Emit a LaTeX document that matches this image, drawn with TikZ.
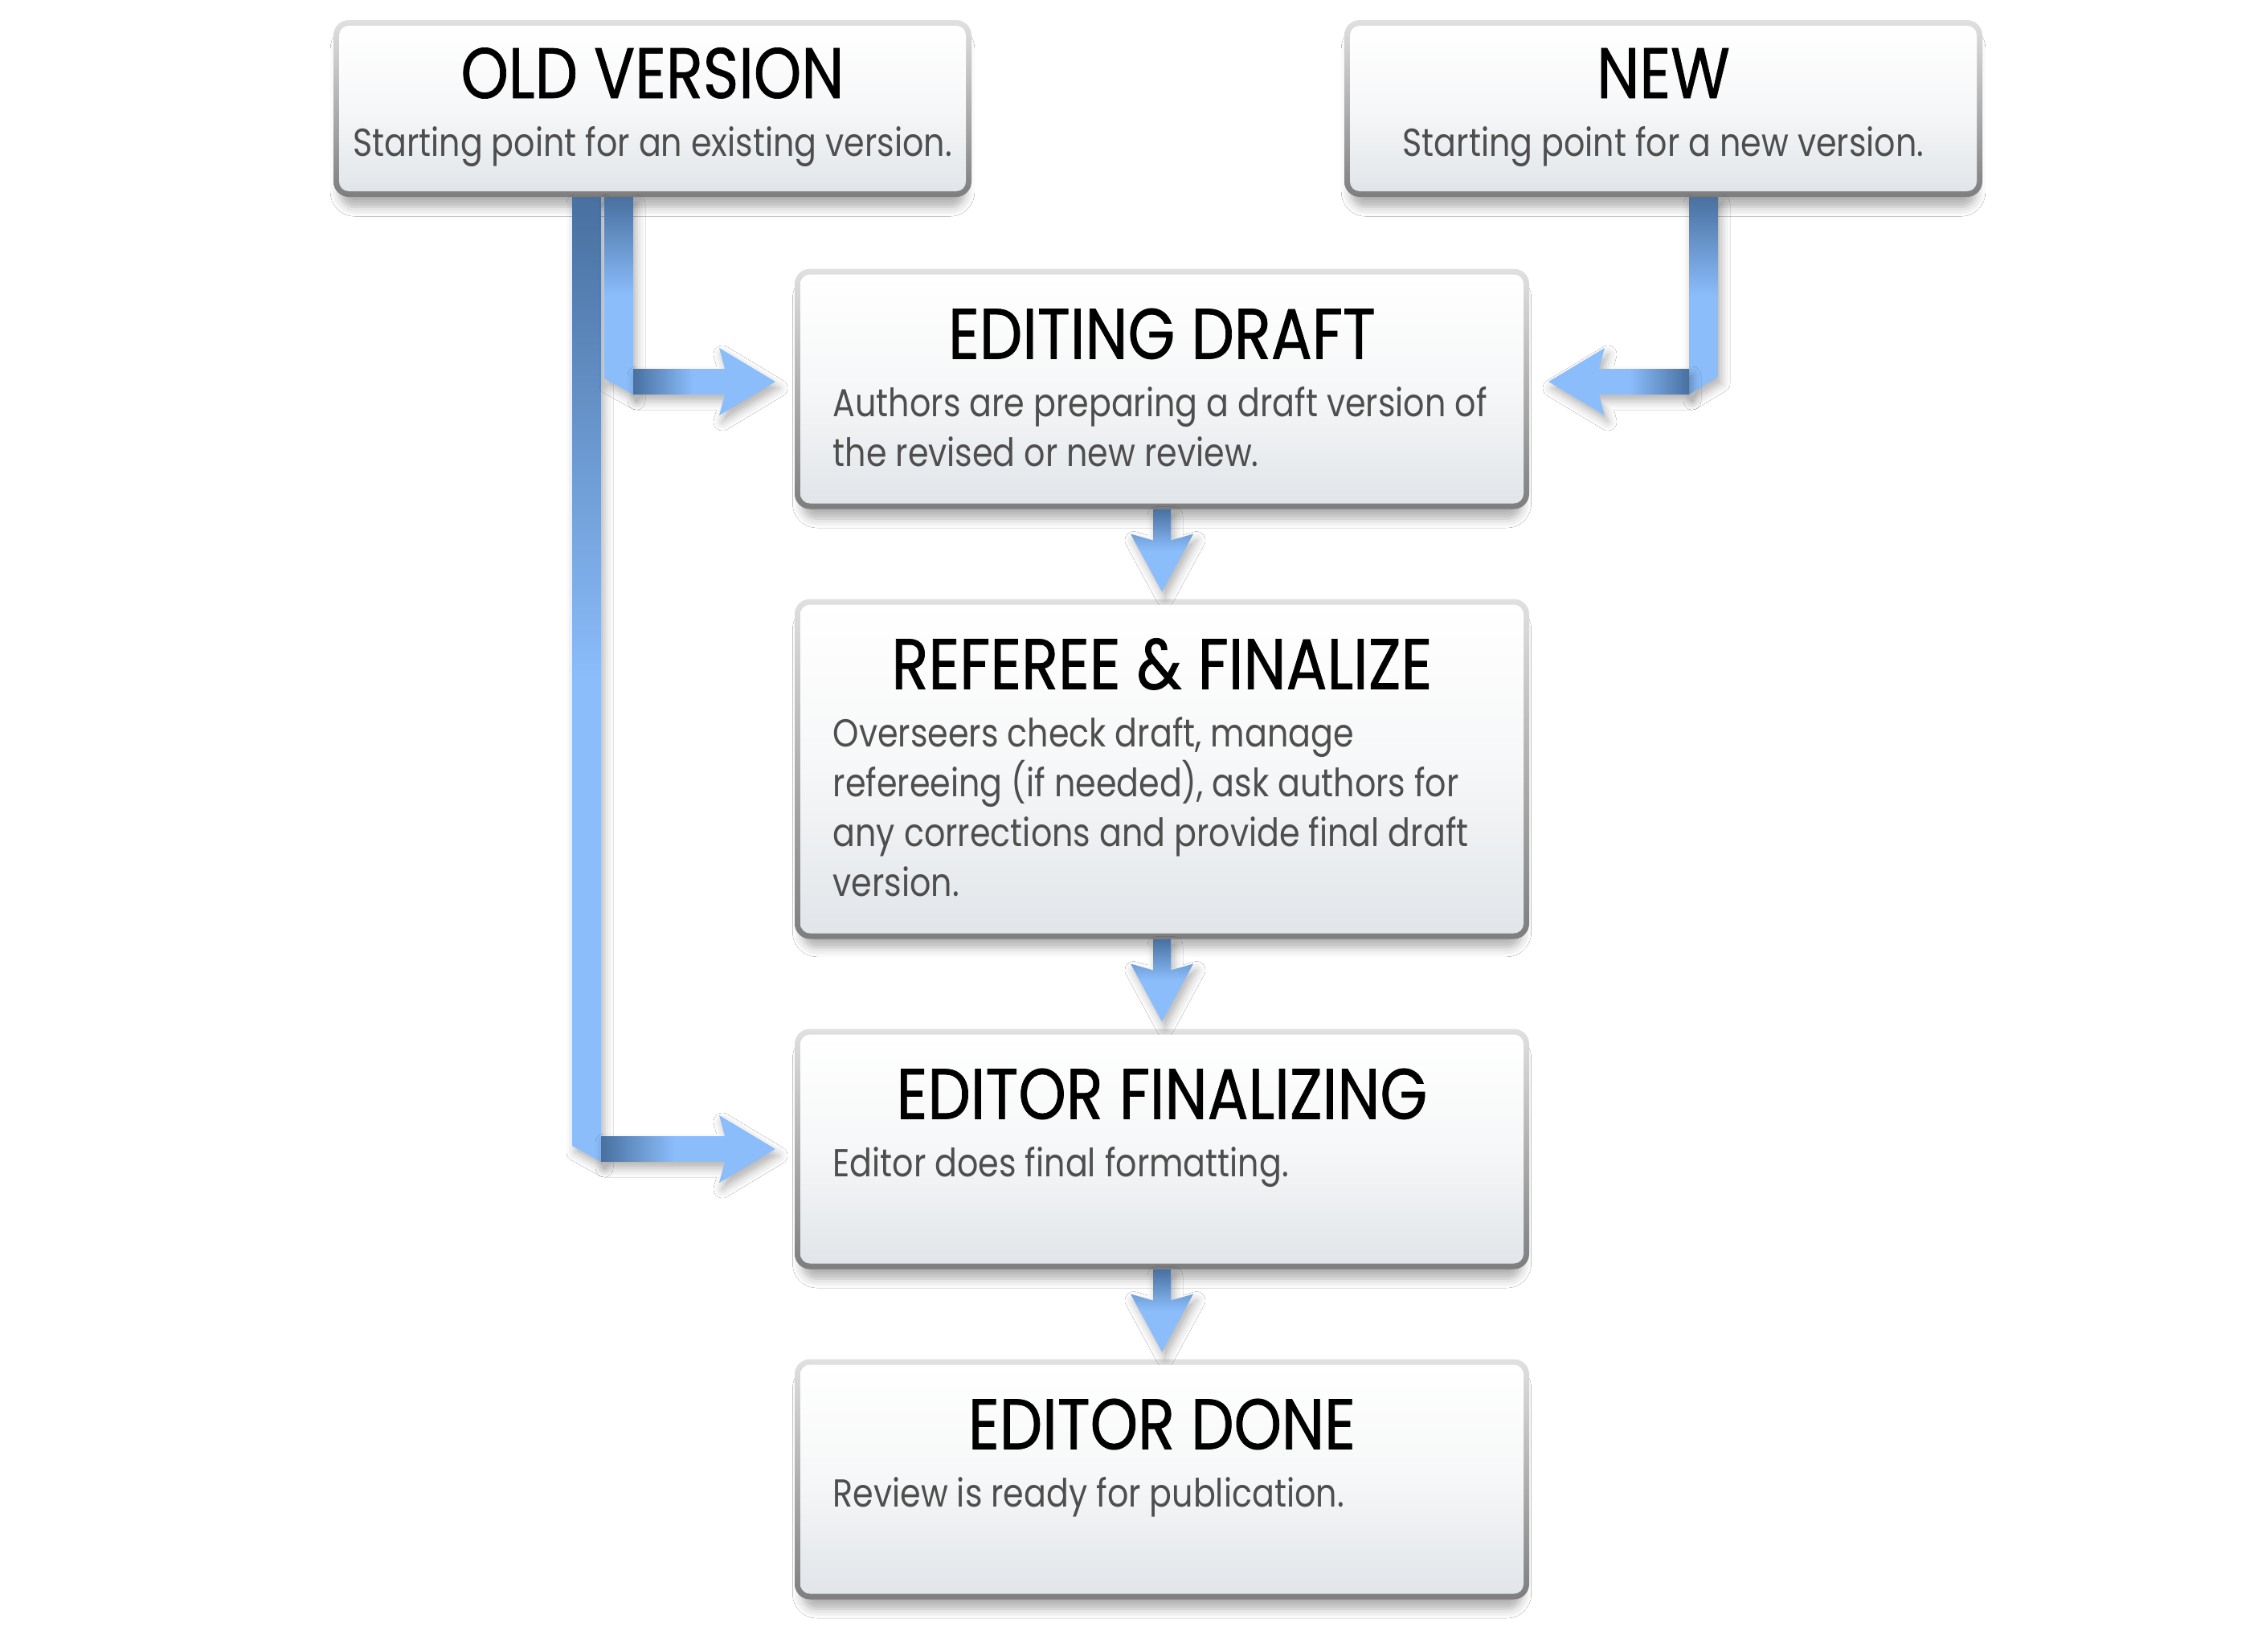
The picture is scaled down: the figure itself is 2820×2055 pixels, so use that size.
\documentclass[tikz,border=0pt]{standalone}
\usepackage{fontspec}
\setmainfont{Poppins}[FakeStretch=0.85]
\newfontfamily\titlefont{Poppins}[FakeStretch=0.85, FakeBold=0.8]
\usepackage{tikz}
\usetikzlibrary{positioning,calc,backgrounds,shadows.blur}
\definecolor{ribdark}{RGB}{72,112,160}
\definecolor{riblight}{RGB}{139,189,251}
\definecolor{edgetop}{RGB}{224,224,224}
\definecolor{edgebot}{RGB}{126,126,126}
\definecolor{boxbot}{RGB}{225,229,233}
\definecolor{boxmid}{RGB}{246,247,248}
\definecolor{descgray}{RGB}{78,78,78}
\pgfdeclareverticalshading{boxfill}{100bp}{color(0bp)=(boxbot); color(25bp)=(boxbot); color(50bp)=(boxmid); color(75bp)=(white); color(100bp)=(white)}
\pgfdeclareverticalshading{ribv}{100bp}{color(0bp)=(riblight); color(50bp)=(riblight); color(75bp)=(ribdark); color(100bp)=(ribdark)}
\pgfdeclarehorizontalshading{ribh}{100bp}{color(0bp)=(ribdark); color(25bp)=(ribdark); color(46bp)=(riblight); color(100bp)=(riblight)}

\begin{document}
\begin{tikzpicture}[
  x=0.1mm, y=-0.1mm,
  node distance=12.6mm,
  box/.style={shade, shading=boxfill, rounded corners=1.2mm, minimum width=90mm,
    minimum height=28.5mm, inner sep=0pt, outer sep=0pt},
  smallbox/.style={box, minimum width=78mm, minimum height=20.6mm},
  headline/.style={font=\titlefont\fontsize{25.3}{30}\selectfont, anchor=base, inner sep=0pt},
  descline/.style={font=\fontsize{13.8}{17.6}\selectfont, text=descgray, align=left, inner sep=0pt},
  boxrim/.style={rounded corners=1.9mm, top color=edgetop, bottom color=edgebot,
    blur shadow={shadow xshift=0mm, shadow yshift=-1.5mm, shadow scale=0.98, shadow blur radius=1.2mm, shadow opacity=32}},
  ribbon/.style={blur shadow={shadow xshift=0.4mm, shadow yshift=-0.8mm, shadow blur radius=1.1mm, shadow opacity=30}}
]
\useasboundingbox (0,0) rectangle (2820,2055);

% the boxes
\node[smallbox] (old) at (812,135) {};
\node[smallbox] (new) at (2070,135) {};
\node[box] (draft) at (1446,484) {};
\node[box, below=of draft, minimum height=40.9mm] (referee) {};
\node[box, below=of referee] (final) {};
\node[box, below=of final] (done) {};

% titles and descriptions (base anchor sits on the last line)
\node[headline] (old-t) at ($(old.north)+(0,90)$) {OLD VERSION};
\node[descline, anchor=base] (old-d) at ($(old.north)+(0,162)$) {Starting point for an existing version.};
\node[headline] (new-t) at ($(new.north)+(0,90)$) {NEW};
\node[descline, anchor=base] (new-d) at ($(new.north)+(0,162)$) {Starting point for a new version.};
\node[headline] (draft-t) at ($(draft.north)+(0,105)$) {EDITING DRAFT};
\node[descline, anchor=base west] (draft-d) at ($(draft.north west)+(40,239)$)
  {Authors are preparing a draft version of\\the revised or new review.};
\node[headline] (referee-t) at ($(referee.north)+(0,105)$) {REFEREE \& FINALIZE};
\node[descline, anchor=base west] (referee-d) at ($(referee.north west)+(40,363)$)
  {Overseers check draft, manage\\refereeing (if needed), ask authors for\\any corrections and provide final draft\\version.};
\node[headline] (final-t) at ($(final.north)+(0,105)$) {EDITOR FINALIZING};
\node[descline, anchor=base west] (final-d) at ($(final.north west)+(40,177)$) {Editor does final formatting.};
\node[headline] (done-t) at ($(done.north)+(0,105)$) {EDITOR DONE};
\node[descline, anchor=base west] (done-d) at ($(done.north west)+(40,177)$) {Review is ready for publication.};

% corner points of the ribbons
\coordinate (lt) at ($(old.south)+(-82,7)$);
\coordinate (lc) at (lt |- final.west);
\coordinate (st) at ($(old.south)+(-42,7)$);
\coordinate (sc) at ($(st |- draft.west)+(0,-9)$);
\coordinate (nt) at ($(new.south)+(50,7)$);
\coordinate (nc) at ($(nt |- draft.east)+(0,-9)$);

\begin{scope}[on background layer]
\fill[white] (0,0) rectangle (2820,2055);
\foreach \n in {old,new,draft,referee,final,done}
  \shade[boxrim] ($(\n.north west)+(-7,-7)$) rectangle ($(\n.south east)+(7,7)$);

% old version -> editor finalizing
\shade[ribbon, shading=ribv] ($(lt)+(-18,0)$) -- ($(lt)+(18,0)$) -- ($(lc)+(18,16)$) -- ($(lc)+(-18,-4)$) -- cycle;
\shade[ribbon, shading=ribh] ($(lc)+(18,-16)$) -- ($(lc -| final.west)+(-94,-16)$) -- ($(lc -| final.west)+(-101,-42)$)
  -- ($(lc -| final.west)+(-31,0)$) -- ($(lc -| final.west)+(-101,42)$) -- ($(lc -| final.west)+(-94,16)$) -- ($(lc)+(18,16)$) -- cycle;

% old version -> editing draft
\shade[ribbon, shading=ribv] ($(st)+(-18,0)$) -- ($(st)+(18,0)$) -- ($(sc)+(18,16)$) -- ($(sc)+(-18,-4)$) -- cycle;
\shade[ribbon, shading=ribh] ($(sc)+(18,-16)$) -- ($(sc -| draft.west)+(-94,-16)$) -- ($(sc -| draft.west)+(-101,-42)$)
  -- ($(sc -| draft.west)+(-31,0)$) -- ($(sc -| draft.west)+(-101,42)$) -- ($(sc -| draft.west)+(-94,16)$) -- ($(sc)+(18,16)$) -- cycle;

% new -> editing draft
\shade[ribbon, shading=ribv] ($(nt)+(-18,0)$) -- ($(nt)+(18,0)$) -- ($(nc)+(18,-6)$) -- ($(nc)+(-18,16)$) -- cycle;
\shade[ribbon, shading=ribh, shading angle=180] ($(nc)+(-18,-16)$) -- ($(nc -| draft.east)+(94,-16)$) -- ($(nc -| draft.east)+(101,-42)$)
  -- ($(nc -| draft.east)+(31,0)$) -- ($(nc -| draft.east)+(101,42)$) -- ($(nc -| draft.east)+(94,16)$) -- ($(nc)+(-18,16)$) -- cycle;

% straight down the column
\foreach \a/\b in {draft/referee, referee/final, final/done}
  \shade[ribbon, shading=ribv] ($(\a.south)+(-11,7)$) -- ($(\a.south)+(11,7)$) -- ($(\b.north)+(11,-80)$)
    -- ($(\b.north)+(39,-88)$) -- ($(\b.north)+(0,-16)$) -- ($(\b.north)+(-39,-88)$) -- ($(\b.north)+(-11,-80)$) -- cycle;
\end{scope}
\end{tikzpicture}
\end{document}
